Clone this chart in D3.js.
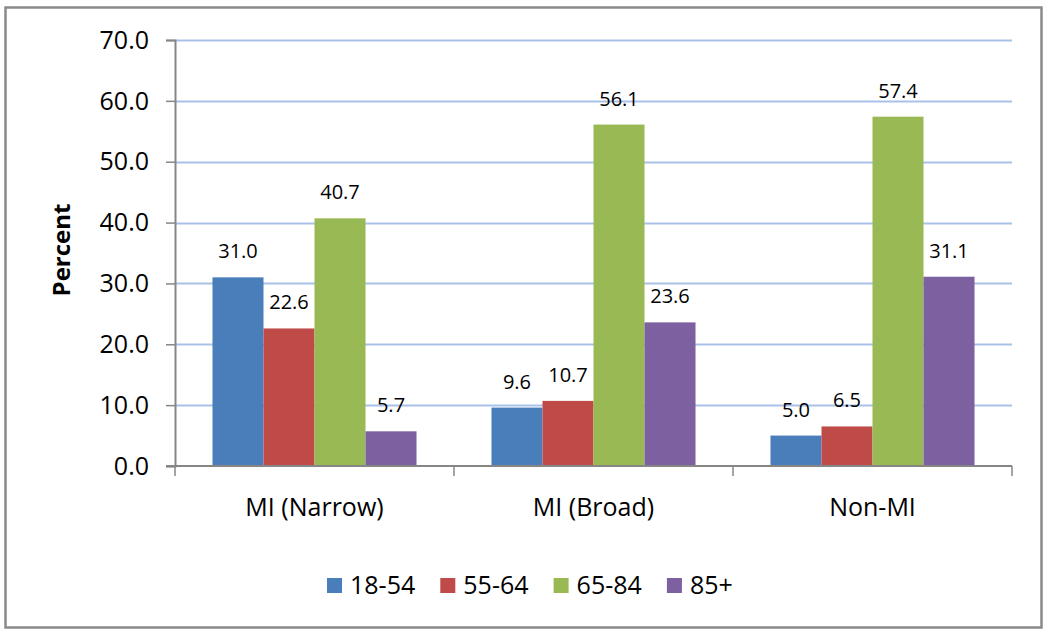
<!DOCTYPE html>
<html>
<head>
<meta charset="utf-8">
<script src="https://cdn.jsdelivr.net/npm/d3@7"></script>
<style>
  html, body { margin: 0; padding: 0; background: #fff; }
  svg { display: block; }
  text { font-family: "Open Sans", "Noto Sans", sans-serif; fill: #000; }
</style>
</head>
<body>
<svg id="chart" width="1050" height="634"></svg>
<script>
const categories = ["MI (Narrow)", "MI (Broad)", "Non-MI"];
const seriesNames = ["18-54", "55-64", "65-84", "85+"];
const values18_54 = [31.0, 9.6, 5.0];
const values55_64 = [22.6, 10.7, 6.5];
const values65_84 = [40.7, 56.1, 57.4];
const values85plus = [5.7, 23.6, 31.1];
const yTicks = [0, 10, 20, 30, 40, 50, 60, 70];
const colors = ["#4a7ebb", "#be4b48", "#98b954", "#7d60a0"];

const seriesValues = [values18_54, values55_64, values65_84, values85plus];

const svg = d3.select("#chart");

// outer chart border
svg.append("rect")
  .attr("x", 5.5).attr("y", 7.5).attr("width", 1036).attr("height", 620)
  .attr("fill", "#fff").attr("stroke", "#8a8a8a").attr("stroke-width", 2.5);

const plotL = 175, plotR = 1012, plotT = 40, plotB = 466;

const y = d3.scaleLinear().domain([0, 70]).range([plotB, plotT]);
const x = d3.scaleBand().domain(categories).range([plotL, plotR]).paddingInner(0).paddingOuter(0);
const xs = d3.scaleBand().domain(seriesNames).range([0, x.bandwidth()])
  .paddingInner(0).paddingOuter(0.735);

// gridlines
svg.append("g").selectAll("line")
  .data(yTicks.filter(d => d > 0))
  .join("line")
  .attr("x1", plotL).attr("x2", plotR)
  .attr("y1", d => Math.round(y(d)) + 0.5).attr("y2", d => Math.round(y(d)) + 0.5)
  .attr("stroke", "#a9c1e8").attr("stroke-width", 2);

// bars
const groups = svg.append("g").selectAll("g")
  .data(seriesNames)
  .join("g")
  .attr("fill", (d, i) => colors[i]);

groups.each(function(s, si) {
  d3.select(this).selectAll("rect")
    .data(categories.map((c, ci) => ({ c, v: seriesValues[si][ci] })))
    .join("rect")
    .attr("x", d => x(d.c) + xs(s))
    .attr("width", xs.bandwidth())
    .attr("y", d => y(d.v))
    .attr("height", d => y(0) - y(d.v));
});

// data labels
groups.each(function(s, si) {
  d3.select(this).selectAll("text")
    .data(categories.map((c, ci) => ({ c, v: seriesValues[si][ci] })))
    .join("text")
    .attr("x", d => x(d.c) + xs(s) + xs.bandwidth() / 2)
    .attr("y", d => y(d.v) - 19)
    .attr("text-anchor", "middle")
    .attr("font-size", 20)
    .style("fill", "#000")
    .text(d => d.v.toFixed(1));
});

// y axis
const yAxis = d3.axisLeft(y).tickValues(yTicks).tickSize(9).tickPadding(17)
  .tickFormat(d3.format(".1f"));
const gy = svg.append("g").attr("transform", `translate(${plotL},0)`).call(yAxis);
gy.select(".domain").attr("stroke", "#868686").attr("stroke-width", 2);
gy.selectAll(".tick line").attr("stroke", "#868686").attr("stroke-width", 1.5);
gy.selectAll(".tick text").attr("font-size", 25).attr("font-family", "Open Sans").attr("fill", "#000")
  .attr("dy", "0.33em");

// x axis
const xAxis = d3.axisBottom(x).tickSize(0).tickPadding(32);
const gx = svg.append("g").attr("transform", `translate(0,${plotB})`).call(xAxis);
gx.select(".domain").remove();
gx.append("line").attr("x1", plotL - 9).attr("x2", plotR).attr("y1", 0).attr("y2", 0)
  .attr("stroke", "#868686").attr("stroke-width", 2);
gx.selectAll(".tick text").attr("font-size", 25).attr("font-family", "Open Sans").attr("fill", "#000");
gx.selectAll(".boundary")
  .data([...categories.map(c => x(c)), plotR])
  .join("line")
  .attr("class", "boundary")
  .attr("x1", d => d).attr("x2", d => d).attr("y1", 0).attr("y2", 10)
  .attr("stroke", "#868686").attr("stroke-width", 1.5);

// y axis title
svg.append("text")
  .attr("transform", `translate(70,250) rotate(-90)`)
  .attr("text-anchor", "middle")
  .attr("font-size", 24).attr("font-weight", "bold")
  .text("Percent");

// legend
const legend = svg.append("g").attr("transform", "translate(327,578)");
const li = legend.selectAll("g").data(seriesNames).join("g")
  .attr("transform", (d, i) => `translate(${i * 113.3},0)`);
li.append("rect").attr("width", 15).attr("height", 15).attr("fill", (d, i) => colors[i]);
li.append("text").attr("x", 23).attr("y", 16).attr("font-size", 25).text(d => d);
</script>
</body>
</html>
